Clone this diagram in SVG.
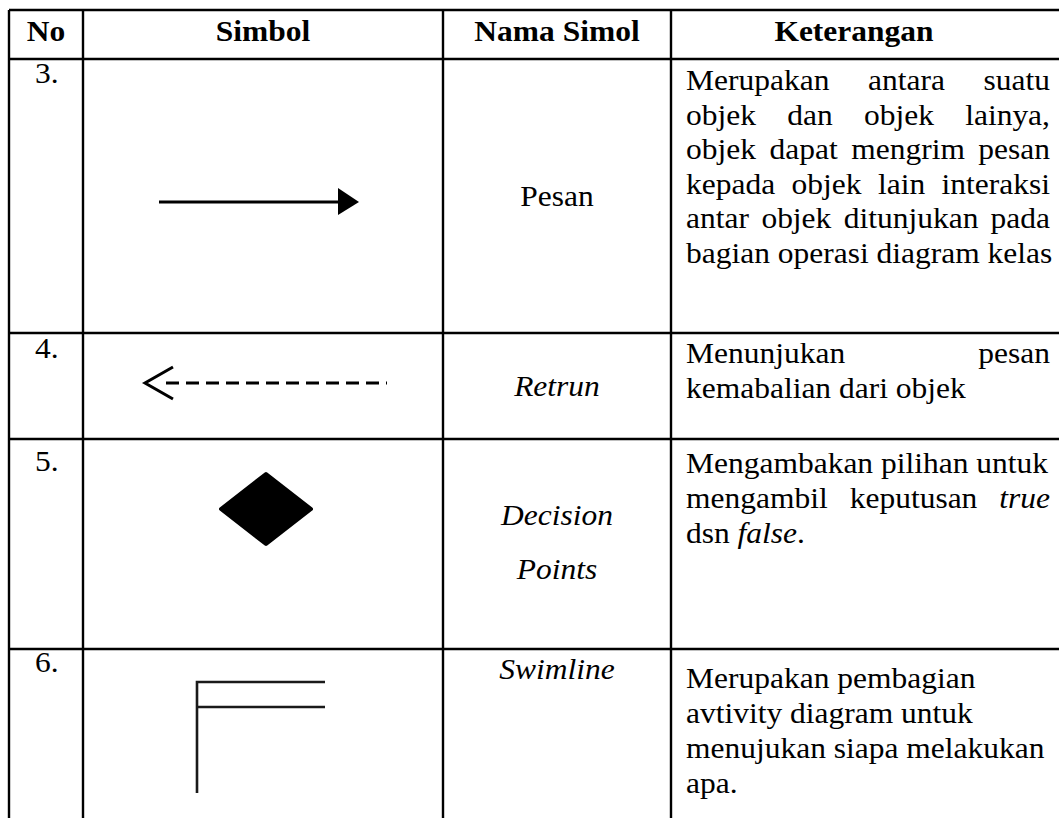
<svg xmlns="http://www.w3.org/2000/svg" width="1059" height="818" viewBox="0 0 1059 818">
  <style>
    .grid { stroke: #000; stroke-width: 2.4; fill: none; }
    .t { font-family: "Liberation Serif", "Times New Roman", serif; font-size: 29px; fill: #000; }
    .b { font-weight: bold; }
    .i { font-style: italic; }
    .m { text-anchor: middle; }
    .e { text-anchor: end; }
    .sym { stroke: #000; fill: none; }
  </style>
  <rect width="1059" height="818" fill="#fff"/>

  <!-- table rules -->
  <g id="table-grid" class="grid">
    <line x1="9" y1="10" x2="1059" y2="10"/>
    <line x1="9" y1="59" x2="1059" y2="59"/>
    <line x1="9" y1="333" x2="1059" y2="333"/>
    <line x1="9" y1="439" x2="1059" y2="439"/>
    <line x1="9" y1="649" x2="1059" y2="649"/>
    <line x1="9" y1="10" x2="9" y2="818"/>
    <line x1="83" y1="10" x2="83" y2="818"/>
    <line x1="443" y1="10" x2="443" y2="818"/>
    <line x1="671" y1="10" x2="671" y2="818"/>
  </g>

  <!-- symbol drawings -->
  <g id="symbol-pesan">
    <line class="sym" x1="159" y1="202" x2="341" y2="202" stroke-width="3.2"/>
    <polygon points="338,188 359,202 338,215" fill="#000"/>
  </g>
  <g id="symbol-return">
    <line class="sym" x1="166" y1="383" x2="387" y2="383" stroke-width="3" stroke-dasharray="13 7"/>
    <polyline class="sym" points="173,367 145,383 173,399" stroke-width="3" stroke-linejoin="miter"/>
  </g>
  <g id="symbol-decision">
    <polygon points="266,474 311,509 266,544 221,509" fill="#000" stroke="#000" stroke-width="4" stroke-linejoin="round"/>
  </g>
  <g id="symbol-swimline" stroke="#1a1a1a" stroke-width="2.6" fill="none">
    <path d="M197,793 V682 H325"/>
    <path d="M197,707 H325"/>
  </g>

  <!-- all text is set in a slightly widened frame (x / 1.086) -->
  <g transform="scale(1.086 1)">
    <g id="header">
      <text class="t b m" x="42.36" y="41">No</text>
      <text class="t b m" x="242.17" y="41">Simbol</text>
      <text class="t b m" x="512.89" y="41">Nama Simol</text>
      <text class="t b m" x="786.37" y="41">Keterangan</text>
    </g>

    <g id="row-3">
      <text class="t" x="32.23" y="83">3.</text>
      <text class="t m" x="512.89" y="206">Pesan</text>
      <text class="t" x="631.68" y="90">Merupakan</text>
      <text class="t" x="799.26" y="90">antara</text>
      <text class="t e" x="966.85" y="90">suatu</text>
      <text class="t" x="631.68" y="124.6">objek</text>
      <text class="t" x="724.95" y="124.6">dan</text>
      <text class="t" x="795.67" y="124.6">objek</text>
      <text class="t e" x="966.85" y="124.6">lainya,</text>
      <text class="t" x="631.68" y="159.2">objek</text>
      <text class="t" x="708.66" y="159.2">dapat</text>
      <text class="t" x="783.89" y="159.2">mengrim</text>
      <text class="t e" x="966.85" y="159.2">pesan</text>
      <text class="t" x="631.68" y="193.8">kepada</text>
      <text class="t" x="728.91" y="193.8">objek</text>
      <text class="t" x="808.56" y="193.8">lain</text>
      <text class="t e" x="966.85" y="193.8">interaksi</text>
      <text class="t" x="631.68" y="228.4">antar</text>
      <text class="t" x="701.10" y="228.4">objek</text>
      <text class="t" x="776.98" y="228.4">ditunjukan</text>
      <text class="t e" x="966.85" y="228.4">pada</text>
      <text class="t" x="631.68" y="263">bagian operasi diagram kelas</text>
    </g>

    <g id="row-4">
      <text class="t" x="32.23" y="358">4.</text>
      <text class="t i m" x="512.89" y="396">Retrun</text>
      <text class="t" x="631.68" y="363">Menunjukan</text>
      <text class="t e" x="966.85" y="363">pesan</text>
      <text class="t" x="631.68" y="398">kemabalian dari objek</text>
    </g>

    <g id="row-5">
      <text class="t" x="32.23" y="471">5.</text>
      <text class="t i m" x="512.89" y="525">Decision</text>
      <text class="t i m" x="512.89" y="579">Points</text>
      <text class="t" x="631.68" y="473">Mengambakan pilihan untuk</text>
      <text class="t" x="631.68" y="508">mengambil</text>
      <text class="t" x="782.41" y="508">keputusan</text>
      <text class="t i e" x="966.85" y="508">true</text>
      <text class="t" x="631.68" y="543">dsn <tspan class="i">false</tspan>.</text>
    </g>

    <g id="row-6">
      <text class="t" x="32.23" y="672">6.</text>
      <text class="t i m" x="512.89" y="679">Swimline</text>
      <text class="t" x="631.68" y="688">Merupakan pembagian</text>
      <text class="t" x="631.68" y="723">avtivity diagram untuk</text>
      <text class="t" x="631.68" y="758">menujukan siapa melakukan</text>
      <text class="t" x="631.68" y="793">apa.</text>
    </g>
  </g>
</svg>
